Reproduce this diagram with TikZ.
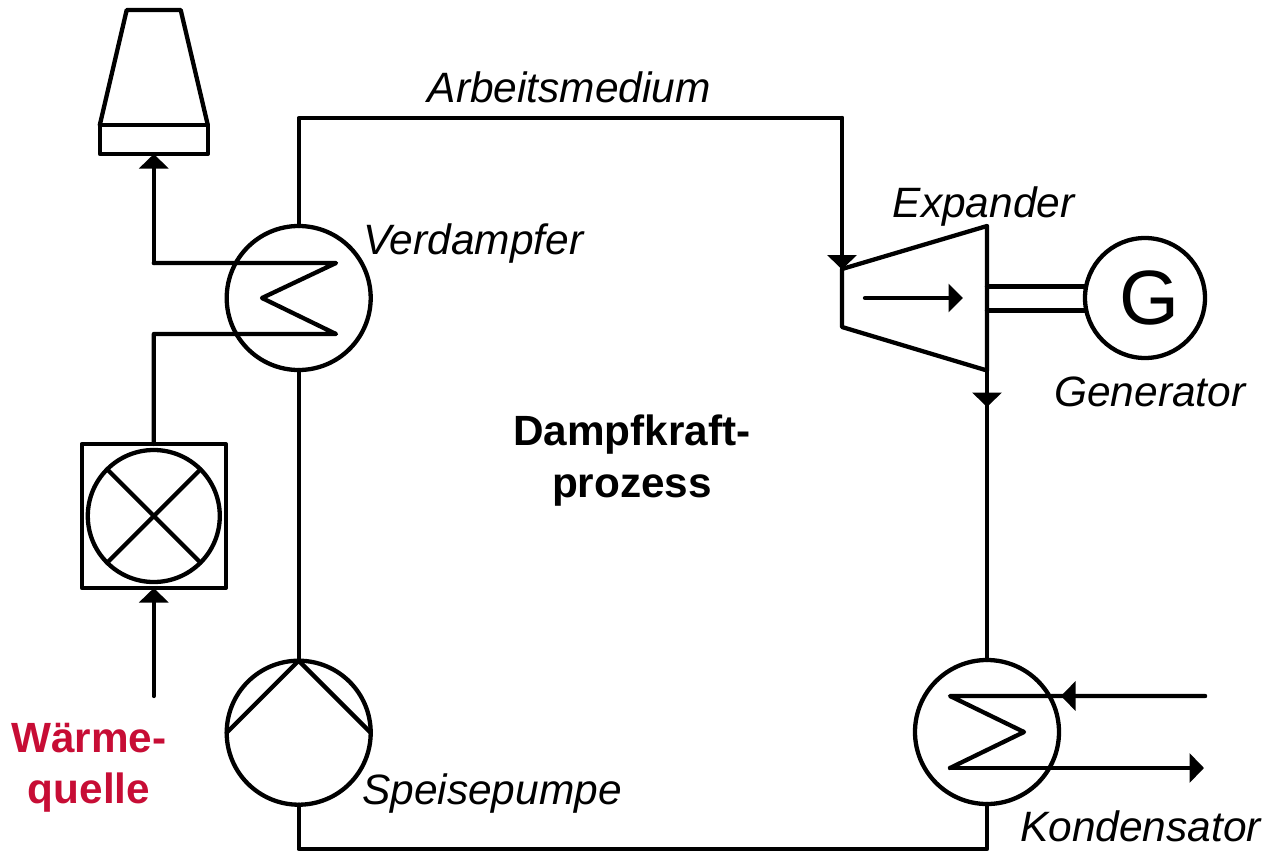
\documentclass[tikz,border=0pt]{standalone}
\usepackage{fontspec}
\setmainfont{Liberation Sans}
\usetikzlibrary{arrows.meta}
\definecolor{quellered}{HTML}{C70D35}
\tikzset{
  pipe/.style={line width=4.3pt,line cap=round,line join=round,draw=black},
  flow/.style={pipe,-{Triangle[width=29pt,length=14.5pt]}},
  unit/.style={circle,draw=black,line width=4.3pt,inner sep=0pt,outer sep=0pt},
  hx/.style={unit,minimum size=144pt},
  lbl/.style={anchor=base west,inner sep=0pt,font=\fontsize{42.45}{50}\selectfont\itshape},
  head/.style={align=center,inner sep=0pt,font=\fontsize{42.3}{51.5}\selectfont\bfseries}
}
\begin{document}
\begin{tikzpicture}[x=1pt,y=-1pt]
\useasboundingbox (0,0) rectangle (1266,851);
% equipment
\node[hx] (verd) at (298.7,298) {};
\node[hx] (pump) at (298.7,732.7) {};
\node[hx] (kond) at (987,732) {};
\node[unit,minimum size=120pt] (gen) at (1145,298) {};
\node[inner sep=0pt,font=\fontsize{77}{77}\selectfont] (gtxt) at (1149.5,298) {G};
\node[draw=black,line width=4.3pt,line join=round,minimum size=144pt,inner sep=0pt,outer sep=0pt] (box) at (153.8,516) {};
\node[unit,minimum size=132pt] (burner) at (153.8,516) {};
\draw[pipe] (burner.45) -- (burner.225);
\draw[pipe] (burner.135) -- (burner.315);
% cooling tower
\node[draw=black,line width=4.3pt,line join=round,minimum width=108pt,minimum height=29pt,inner sep=0pt,outer sep=0pt] (tbase) at (153.8,139.5) {};
\coordinate (ttl) at (126.7,10);
\coordinate (ttr) at (180.7,10);
\draw[pipe] (tbase.north west) -- (ttl) -- (ttr) -- (tbase.north east);
% expander
\coordinate (e1) at (842,269);
\coordinate (e2) at (987,226);
\coordinate (e3) at (987,370.5);
\coordinate (e4) at (842,327);
\draw[pipe] (e1) -- (e2) -- (e3) -- (e4) -- cycle;
\coordinate (ea) at (865,298);
\coordinate (eb) at (963,298);
\draw[pipe,-{Triangle[width=28pt,length=14.5pt]}] (ea) -- (eb);
% shaft
\draw[pipe] (987,286.5) -- (gen.west |- 0,286.5);
\draw[pipe] (987,310.5) -- (gen.west |- 0,310.5);
% working fluid loop
\coordinate (c1) at (298.7,118);
\coordinate (c2) at (842,118);
\coordinate (c3) at (298.7,849);
\coordinate (c4) at (987,849);
\draw[pipe] (verd.north) -- (c1) -- (c2) -- (e1);
\coordinate (a1) at (842,269.5);
\draw[flow] (c2) -- (a1);
\coordinate (a2) at (987,407);
\draw[pipe] (e3) -- (kond.north);
\draw[flow] (e3) -- (a2);
\draw[pipe] (kond.south) -- (c4) -- (c3) -- (pump.south);
\draw[pipe] (verd.south) -- (pump.north);
% pump
\draw[pipe] (pump.west) -- (pump.north) -- (pump.east);
% evaporator coil and heat source gas path
\coordinate (v1) at (153.8,263);
\coordinate (v2) at (336,263);
\coordinate (v3) at (262,298);
\coordinate (v4) at (336,334);
\coordinate (v5) at (153.8,334);
\draw[pipe] (v1) -- (v2) -- (v3) -- (v4) -- (v5) -- (box.north -| v5);
\draw[flow] (v1) -- (tbase.south);
\coordinate (q) at (153.8,696);
\draw[flow] (q) -- (box.south);
% condenser coil
\coordinate (k1) at (950,696);
\coordinate (k2) at (1024,732);
\coordinate (k3) at (950,768);
\coordinate (k4) at (1205,696);
\coordinate (k5) at (1061,696);
\coordinate (k6) at (1204,768);
\draw[pipe] (k4) -- (k1) -- (k2) -- (k3);
\draw[flow] (k4) -- (k5);
\draw[flow] (k3) -- (k6);
% labels
\node[lbl] (larb) at (427.5,102) {Arbeitsmedium};
\node[lbl] (lexp) at (892.5,217) {Expander};
\node[lbl] (lver) at (363,254) {Verdampfer};
\node[lbl] (lgen) at (1054,406) {Generator};
\node[lbl] (lspe) at (362,804) {Speisepumpe};
\node[lbl] (lkon) at (1020,841) {Kondensator};
\node[head] (ldkp) at (632,460.5) {Dampfkraft-\\prozess};
\node[head,text=quellered] (lwq) at (89,767.5) {Wärme-\\quelle};
\end{tikzpicture}
\end{document}
